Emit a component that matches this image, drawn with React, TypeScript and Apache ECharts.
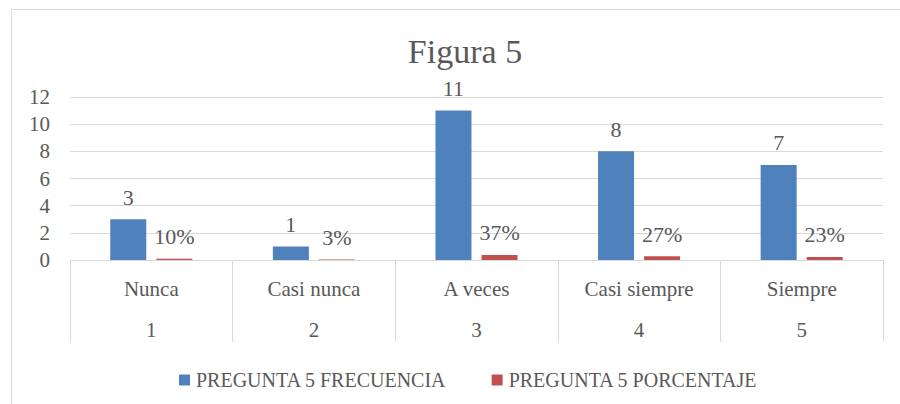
import React, { useEffect, useRef } from "react";
import * as echarts from "echarts";

const categories = ["Nunca", "Casi nunca", "A veces", "Casi siempre", "Siempre"];
const codes = ["1", "2", "3", "4", "5"];
const frecuencia = [3, 1, 11, 8, 7];
const porcentaje = [0.1, 0.03, 0.37, 0.27, 0.23];
const yTicks = { min: 0, max: 12, interval: 2 };

const FONT = "Liberation Serif";
const TXT = "#595959";
const GRID = "#D9D9D9";

export default function App() {
  const ref = useRef<HTMLDivElement>(null);
  useEffect(() => {
    document.body.style.margin = "0";
    const chart = echarts.init(ref.current!, null, { renderer: "svg" });
    chart.setOption({
      animation: false,
      backgroundColor: "#ffffff",
      textStyle: { fontFamily: FONT, color: TXT },
      graphic: [
        {
          type: "rect",
          shape: { x: 11.5, y: 9.5, width: 920, height: 420 },
          style: { fill: "none", stroke: GRID, lineWidth: 1 },
          silent: true,
        },
      ],
      title: {
        text: "Figura 5",
        left: 460,
        textAlign: "center",
        top: 29,
        textStyle: { fontFamily: FONT, fontSize: 34, fontWeight: "normal", color: TXT },
      },
      legend: {
        left: 174,
        top: 365,
        icon: "rect",
        itemWidth: 11,
        itemHeight: 11,
        itemGap: 45,
        textStyle: { fontFamily: FONT, fontSize: 20, color: TXT, padding: [0, 0, 0, 1] },
        data: ["PREGUNTA 5 FRECUENCIA", "PREGUNTA 5 PORCENTAJE"],
      },
      grid: { left: 70, right: 17, top: 97, bottom: 144, containLabel: false },
      xAxis: [
        {
          type: "category",
          data: categories,
          position: "bottom",
          axisLine: { show: true, lineStyle: { color: GRID } },
          axisTick: { show: true, length: 82, lineStyle: { color: GRID } },
          axisLabel: { fontFamily: FONT, fontSize: 21, color: TXT, margin: 18 },
        },
        {
          type: "category",
          data: codes,
          position: "bottom",
          axisLine: { show: false },
          axisTick: { show: false },
          axisLabel: { fontFamily: FONT, fontSize: 21, color: TXT, margin: 59 },
        },
      ],
      yAxis: {
        type: "value",
        min: yTicks.min,
        max: yTicks.max,
        interval: yTicks.interval,
        axisLine: { show: false },
        axisTick: { show: false },
        splitLine: { lineStyle: { color: GRID, width: 1 } },
        axisLabel: { fontFamily: FONT, fontSize: 21, color: TXT, margin: 20 },
      },
      series: [
        {
          name: "PREGUNTA 5 FRECUENCIA",
          type: "bar",
          data: frecuencia,
          barWidth: 36,
          barGap: "28%",
          itemStyle: { color: "#4F81BD" },
          label: {
            show: true,
            position: "top",
            distance: 11,
            fontFamily: FONT,
            fontSize: 22,
            color: TXT,
          },
        },
        {
          name: "PREGUNTA 5 PORCENTAJE",
          type: "bar",
          data: porcentaje,
          barWidth: 36,
          barGap: "28%",
          itemStyle: { color: "#C0504D" },
          label: {
            show: true,
            position: "top",
            distance: 11,
            fontFamily: FONT,
            fontSize: 22,
            color: TXT,
            formatter: (p: any) => Math.round(p.value * 100) + "%",
          },
        },
      ],
    });
    return () => chart.dispose();
  }, []);
  return <div ref={ref} style={{ width: 900, height: 404 }} />;
}
